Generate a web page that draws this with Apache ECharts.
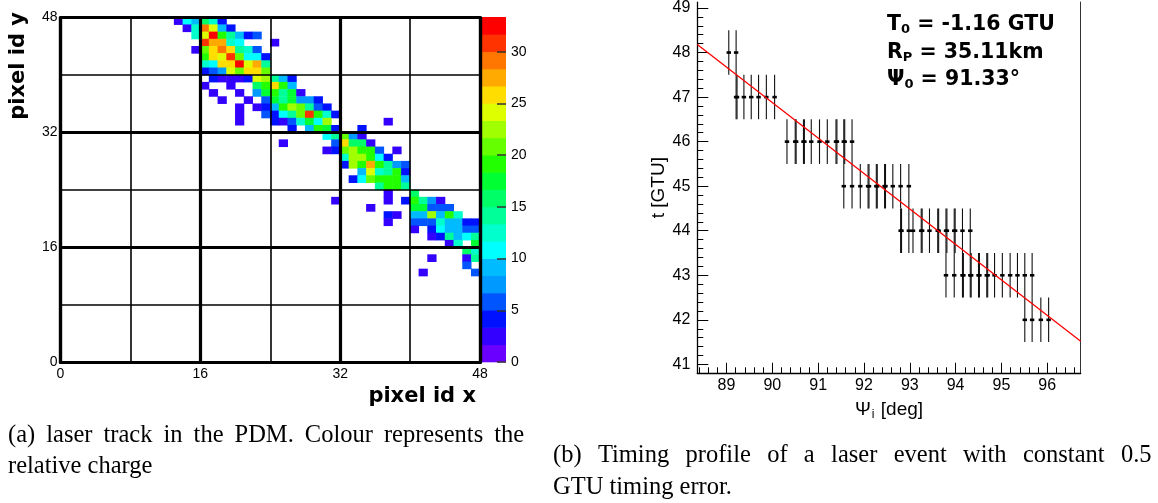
<!DOCTYPE html>
<html><head><meta charset="utf-8">
<script src="https://cdn.jsdelivr.net/npm/echarts@6/dist/echarts.min.js"></script>
<style>html,body{margin:0;padding:0;background:#fff}#c{width:1158px;height:503px}</style>
</head><body><div id="c"></div>
<script>
// ---------- data: laser track in the PDM (pixel x, pixel y, relative charge) ----------
const laserTrackCells = [
 [13,47,2],[14,47,11],[15,47,9],[16,47,16],[17,47,12.5],[18,47,4],
 [14,46,2],[15,46,12.5],[16,46,29],[17,46,24],[18,46,9],[19,46,4],
 [15,45,12.5],[16,45,24],[17,45,32.5],[18,45,19],[19,45,14],[20,45,9],[21,45,4],[22,45,5.5],
 [16,44,31],[17,44,27.5],[18,44,27.5],[19,44,12.5],[20,44,11],[24,44,2],
 [15,43,2],[16,43,21],[17,43,26],[18,43,29],[19,43,26],[20,43,14],[21,43,12.5],[22,43,5.5],
 [16,42,19],[17,42,26],[18,42,24],[19,42,31],[20,42,21],[21,42,11],[22,42,11],[23,42,4],
 [16,41,12.5],[17,41,11],[18,41,26],[19,41,26],[20,41,32.5],[21,41,24],[22,41,27.5],[23,41,14],
 [16,40,4],[17,40,5.5],[18,40,7.5],[19,40,24],[20,40,21],[21,40,26],[22,40,26],[23,40,21],
 [17,39,4],[18,39,2],[19,39,2],[20,39,2],[21,39,4],[22,39,24],[23,39,22.5],[24,39,14],[25,39,9],[26,39,4],
 [16,38,2],[19,38,2],[22,38,16],[23,38,19],[24,38,26],[25,38,19],[26,38,9],
 [17,37,2],[20,37,2],[22,37,7.5],[23,37,17.5],[24,37,19],[25,37,14],[26,37,17.5],[27,37,2],
 [18,36,2],[21,36,2],[23,36,5.5],[24,36,17.5],[25,36,14],[26,36,17.5],[27,36,7.5],[28,36,7.5],[29,36,4],
 [20,35,2],[22,35,2],[23,35,4],[24,35,9],[25,35,19],[26,35,22.5],[27,35,21],[28,35,14],[29,35,5.5],[30,35,4],
 [20,34,2],[23,34,5.5],[24,34,4],[25,34,11],[26,34,14],[27,34,21],[28,34,31],[29,34,19],[30,34,12.5],[31,34,4],
 [20,33,2],[24,33,4],[25,33,2],[26,33,5.5],[27,33,12.5],[28,33,17.5],[29,33,11],[30,33,22.5],[37,33,2],
 [26,32,4],[28,32,9],[29,32,19],[30,32,17.5],[31,32,4],[34,32,4],
 [30,31,11],[31,31,14],[32,31,21],[33,31,7.5],[34,31,2],
 [25,30,2],[31,30,5.5],[32,30,26],[33,30,16],[34,30,16],[35,30,2],
 [30,29,2],[31,29,4],[32,29,21],[33,29,22.5],[34,29,19],[35,29,19],[36,29,5.5],[38,29,2],
 [32,28,12.5],[33,28,22.5],[34,28,22.5],[35,28,19],[36,28,11],[37,28,4],
 [32,27,4],[33,27,22.5],[34,27,19],[35,27,27.5],[36,27,19],[37,27,14],[38,27,7.5],[39,27,5.5],
 [34,26,9],[35,26,24],[36,26,12.5],[37,26,14],[38,26,19],[39,26,4],
 [33,25,4],[34,25,11],[35,25,21],[36,25,19],[37,25,19],[38,25,19],[39,25,9],
 [36,24,14],[37,24,19],[38,24,19],[39,24,14.5],
 [37,23,2],[40,23,16],
 [31,22,2],[37,22,2],[39,22,4],[40,22,19],[41,22,14],[42,22,7.5],[43,22,2],
 [35,21,2],[40,21,17.5],[41,21,17.5],[42,21,6],[43,21,5.5],[44,21,5.5],
 [37,20,4],[38,20,2],[40,20,9],[41,20,9],[42,20,22.5],[43,20,9],[44,20,19],[45,20,12.5],
 [37,19,2],[40,19,5.5],[41,19,5.5],[42,19,5.5],[43,19,12.5],[44,19,9],[45,19,9],[46,19,4],[47,19,4],
 [40,18,2],[42,18,4],[43,18,11],[44,18,9],[45,18,9],[46,18,5.5],[47,18,5.5],
 [42,17,2],[43,17,4],[44,17,14],[45,17,9],[46,17,11],[47,17,14],
 [44,16,2],[45,16,12.5],[47,16,17.5],
 [46,15,16],[47,15,12.5],
 [42,14,2],[46,14,2],[47,14,14],
 [46,13,5.5],
 [41,12,2],[47,12,5]
];
const pixelTicks = [0, 16, 32, 48];
const chargeTicks = [0, 5, 10, 15, 20, 25, 30];
const chargeMax = 33.33;
const paletteColors = ['#6a00ff','#3300ff','#0011ff','#0055ff','#0099ff','#00bbff','#00ffff','#00ffcc','#00ff99','#00ff66',
                       '#00ff33','#22ff00','#66ff00','#a0ff00','#ddff00','#ffdd00','#ffaa00','#ff7700','#ff3300','#ff0000'];

// ---------- data: timing profile (Psi_i [deg], t [GTU]) ----------
const timingPoints = [
 [89.05,48],[89.21,48],
 [89.21,47],[89.23,47],[89.38,47],[89.54,47],[89.70,47],[89.87,47],[90.05,47],
 [90.32,46],[90.50,46],[90.52,46],[90.68,46],[90.70,46],[90.85,46],[91.03,46],[91.20,46],[91.39,46],[91.41,46],[91.56,46],[91.58,46],[91.74,46],
 [91.56,45],[91.74,45],[91.92,45],[92.09,45],[92.11,45],[92.27,45],[92.29,45],[92.45,45],[92.47,45],[92.63,45],[92.80,45],[92.98,45],
 [92.80,44],[92.82,44],[92.98,44],[93.07,44],[93.25,44],[93.27,44],[93.43,44],[93.61,44],[93.63,44],[93.79,44],[93.81,44],[93.97,44],[93.99,44],[94.15,44],[94.32,44],
 [93.79,43],[93.97,43],[94.15,43],[94.17,43],[94.32,43],[94.34,43],[94.50,43],[94.52,43],[94.68,43],[94.70,43],[94.85,43],[95.02,43],[95.19,43],[95.35,43],[95.51,43],[95.67,43],
 [95.51,42],[95.67,42],[95.86,42],[96.03,42]
];
const timingError = 0.5;
const fitLine = [[88.363,48.18],[96.73,41.52]];
const psiTicks = [89, 90, 91, 92, 93, 94, 95, 96];
const tTicks = [41, 42, 43, 44, 45, 46, 47, 48, 49];

// ---------- helpers ----------
const bandStep = chargeMax / paletteColors.length;
function chargeColor(q) {
  let i = Math.floor(q / bandStep);
  i = Math.max(0, Math.min(paletteColors.length - 1, i));
  return paletteColors[i];
}
const colorbarBands = paletteColors.map((c, i) => [0.5, i * bandStep, (i + 1) * bandStep]);

const sans = 'Liberation Sans';
const chart = echarts.init(document.getElementById('c'));
const frame = { onZero: false, lineStyle: { color: '#000', width: 3.2 } };
const fitRich = {
  b: { fontSize: 20.5, fontWeight: 'bold', fontFamily: 'DejaVu Sans', fill: '#000' },
  s: { fontSize: 13, fontWeight: 'bold', fontFamily: 'DejaVu Sans', fill: '#000', padding: [10, 0, 0, 0] }
};

chart.setOption({
  animation: false,
  backgroundColor: '#fff',
  grid: [
    { left: 60.5, top: 17.5, width: 419.5, height: 344.8 },
    { left: 481.5, top: 17.3, width: 24.5, height: 344.7 },
    { left: 697.3, top: 0, width: 383.4, height: 373.3 }
  ],
  xAxis: [
    { gridIndex: 0, type: 'value', min: 0, max: 48, interval: 16, position: 'bottom', z: 6,
      axisLine: frame, axisTick: { show: false },
      axisLabel: { customValues: pixelTicks, fontSize: 14, color: '#000', margin: 5, fontFamily: sans },
      splitLine: { show: true, lineStyle: { color: '#000', width: 3.2 } } },
    { gridIndex: 0, type: 'value', min: 0, max: 48, interval: 8, position: 'top', z: 5,
      axisLine: frame, axisTick: { show: false }, axisLabel: { show: false },
      splitLine: { show: true, lineStyle: { color: '#000', width: 1.6 } } },
    { gridIndex: 1, type: 'value', min: 0, max: 1, show: false },
    { gridIndex: 2, type: 'value', min: 88.363, max: 96.73, minInterval: 1, maxInterval: 1,
      axisLine: { onZero: false, lineStyle: { color: '#000', width: 1.3 } },
      axisTick: { inside: true, length: 10.5, customValues: psiTicks, lineStyle: { color: '#000', width: 1 } },
      minorTick: { show: true, splitNumber: 5, length: 6, lineStyle: { color: '#000', width: 1 } },
      axisLabel: { customValues: psiTicks, fontSize: 16, color: '#000', margin: 4, fontFamily: sans },
      splitLine: { show: false },
      name: '{n|Ψ}{s|i}{n| [deg]}', nameLocation: 'middle', nameGap: 25,
      nameTextStyle: { rich: {
        n: { fontSize: 19, fontFamily: sans, color: '#000' },
        s: { fontSize: 12, fontFamily: sans, color: '#000', padding: [10, 1, 0, 1] } } } }
  ],
  yAxis: [
    { gridIndex: 0, type: 'value', min: 0, max: 48, interval: 16, position: 'left', z: 6,
      axisLine: frame, axisTick: { show: false },
      axisLabel: { customValues: pixelTicks, fontSize: 14, color: '#000', margin: 3, fontFamily: sans },
      splitLine: { show: true, lineStyle: { color: '#000', width: 3.2 } } },
    { gridIndex: 0, type: 'value', min: 0, max: 48, interval: 8, position: 'right', z: 5,
      axisLine: frame, axisTick: { show: false }, axisLabel: { show: false },
      splitLine: { show: true, lineStyle: { color: '#000', width: 1.6 } } },
    { gridIndex: 1, type: 'value', min: 0, max: chargeMax, interval: 5, position: 'right', z: 5,
      axisLine: { show: false, onZero: false },
      axisTick: { show: true, inside: true, length: 9, customValues: chargeTicks, lineStyle: { color: '#333', width: 1.5 } },
      axisLabel: { customValues: chargeTicks, fontSize: 14, color: '#000', margin: 5, fontFamily: sans },
      splitLine: { show: false } },
    { gridIndex: 2, type: 'value', min: 40.8, max: 49.134, minInterval: 1, maxInterval: 1, position: 'left',
      axisLine: { onZero: false, lineStyle: { color: '#000', width: 1.3 } },
      axisTick: { inside: true, length: 11, customValues: tTicks, lineStyle: { color: '#000', width: 1 } },
      minorTick: { show: true, splitNumber: 5, length: 6, lineStyle: { color: '#000', width: 1 } },
      axisLabel: { customValues: tTicks, fontSize: 16, color: '#000', margin: 7, fontFamily: sans },
      splitLine: { show: false },
      name: 't [GTU]', nameLocation: 'middle', nameGap: 26, nameRotate: 90,
      nameTextStyle: { fontSize: 19, fontFamily: sans, color: '#000' } },
    { gridIndex: 2, type: 'value', min: 40.8, max: 49.134, position: 'right',
      axisLine: { show: true, onZero: false, lineStyle: { color: '#333', width: 1 } },
      axisTick: { show: false }, axisLabel: { show: false }, splitLine: { show: false } }
  ],
  series: [
    { type: 'custom', name: 'charge', xAxisIndex: 0, yAxisIndex: 0, silent: true,
      data: laserTrackCells, encode: { x: 0, y: 1 },
      renderItem: (params, api) => {
        const x = api.value(0), y = api.value(1), q = api.value(2);
        const p0 = api.coord([x, y + 1]);
        const p1 = api.coord([x + 1, y]);
        return { type: 'rect',
          shape: { x: p0[0] - 0.25, y: p0[1] - 0.25, width: p1[0] - p0[0] + 0.5, height: p1[1] - p0[1] + 0.5 },
          style: { fill: chargeColor(q) } };
      } },
    { type: 'custom', name: 'palette', xAxisIndex: 2, yAxisIndex: 2, silent: true,
      data: colorbarBands, encode: { x: 0, y: [1, 2] },
      renderItem: (params, api) => {
        const lo = api.value(1), hi = api.value(2);
        const p0 = api.coord([0, hi]);
        const p1 = api.coord([1, lo]);
        return { type: 'rect',
          shape: { x: p0[0], y: p0[1] - 0.3, width: p1[0] - p0[0], height: p1[1] - p0[1] + 0.6 },
          style: { fill: paletteColors[params.dataIndex] } };
      } },
    { type: 'custom', name: 'timing', xAxisIndex: 3, yAxisIndex: 3, silent: true,
      data: timingPoints, encode: { x: 0, y: 1 },
      renderItem: (params, api) => {
        const x = api.value(0), y = api.value(1);
        const top = api.coord([x, y + timingError]);
        const bot = api.coord([x, y - timingError]);
        const c = api.coord([x, y]);
        return { type: 'group', children: [
          { type: 'line', shape: { x1: top[0], y1: top[1], x2: bot[0], y2: bot[1] },
            style: { stroke: '#111', lineWidth: 1.1 } },
          { type: 'rect', shape: { x: c[0] - 2.2, y: c[1] - 1.3, width: 4.4, height: 2.6 },
            style: { fill: '#000' } }
        ] };
      } },
    { type: 'line', name: 'fit', xAxisIndex: 3, yAxisIndex: 3, data: fitLine, silent: true, z: 5,
      showSymbol: false, symbol: 'none', lineStyle: { color: '#ff0000', width: 1.3 } }
  ],
  graphic: [
    { type: 'text', x: 19, y: 12, rotation: Math.PI / 2,
      style: { text: 'pixel id y', fill: '#000', font: 'bold 21px "DejaVu Sans"', align: 'right', verticalAlign: 'middle' } },
    { type: 'text', x: 476, y: 397,
      style: { text: 'pixel id x', fill: '#000', font: 'bold 21px "DejaVu Sans"', align: 'right', verticalAlign: 'middle' } },
    { type: 'text', x: 887, y: 25,
      style: { text: '{b|T}{s|0}{b| = -1.16 GTU}', align: 'left', verticalAlign: 'middle', rich: fitRich } },
    { type: 'text', x: 887, y: 53,
      style: { text: '{b|R}{s|P}{b| = 35.11km}', align: 'left', verticalAlign: 'middle', rich: fitRich } },
    { type: 'text', x: 887, y: 80,
      style: { text: '{b|Ψ}{s|0}{b| = 91.33°}', align: 'left', verticalAlign: 'middle', rich: fitRich } },
    { type: 'text', x: 8, y: 436,
      style: { text: '(a)\u2009 laser\u2009 track\u2009 in\u2009 the\u2009 PDM.\u2009 Colour\u2009 represents\u2009 the', fill: '#000', font: '24.5px "Liberation Serif"', align: 'left', verticalAlign: 'middle' } },
    { type: 'text', x: 8, y: 467,
      style: { text: 'relative charge', fill: '#000', font: '24.5px "Liberation Serif"', align: 'left', verticalAlign: 'middle' } },
    { type: 'text', x: 553, y: 456,
      style: { text: '(b)\u2002\u2006Timing\u2002\u2006profile\u2002\u2006of\u2002\u2006a\u2002\u2006laser\u2002\u2006event\u2002\u2006with\u2002\u2006constant\u2002\u20060.5', fill: '#000', font: '24.5px "Liberation Serif"', align: 'left', verticalAlign: 'middle' } },
    { type: 'text', x: 553, y: 488,
      style: { text: 'GTU timing error.', fill: '#000', font: '24.5px "Liberation Serif"', align: 'left', verticalAlign: 'middle' } }
  ]
});
</script>
</body></html>
